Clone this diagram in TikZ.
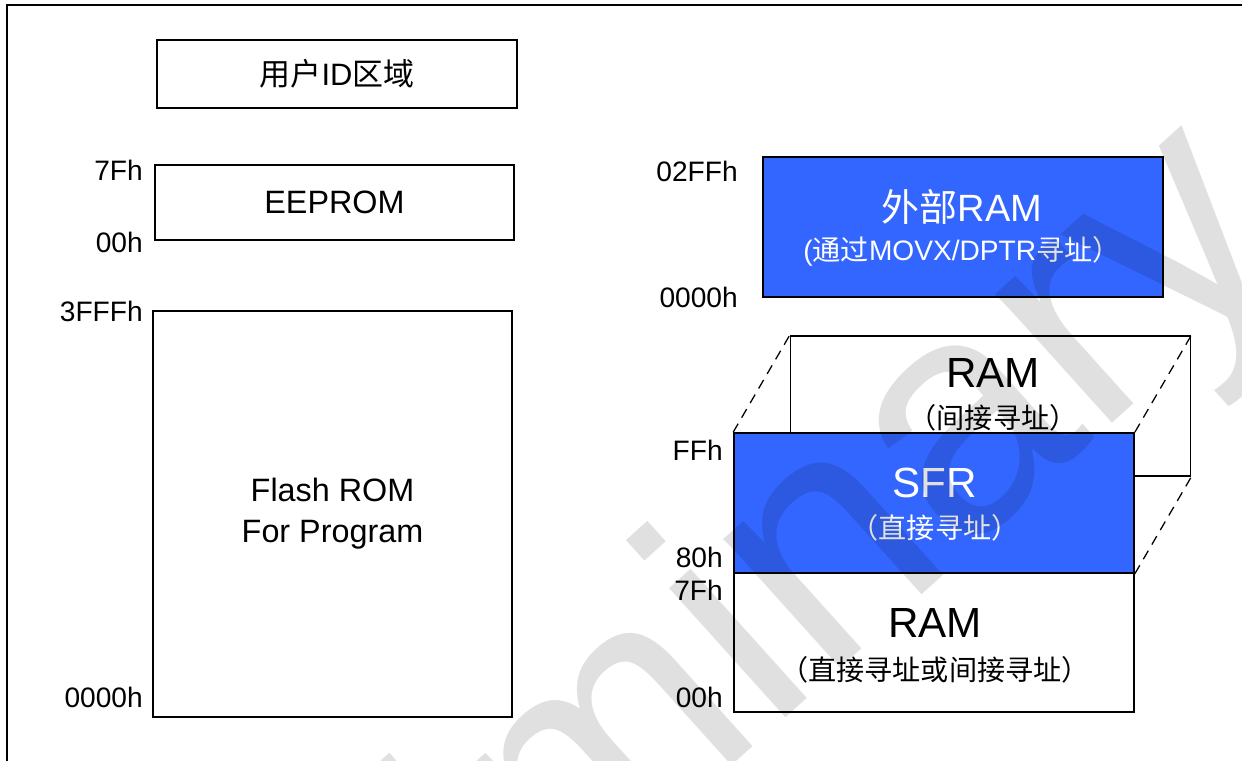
\documentclass[tikz,border=0pt]{standalone}
\usepackage{fontspec}
\setmainfont{Liberation Sans}
\newfontfamily\cjk{Noto Sans CJK SC}
\usepackage{tikz}
\usetikzlibrary{positioning}
\definecolor{sfrblue}{RGB}{51,102,255}
\tikzset{
  membox/.style={draw=black,line width=1.1pt,fill=white,inner sep=0pt,minimum width=10cm,minimum height=3.5cm},
  bluebox/.style={membox,fill=sfrblue},
  addr/.style={anchor=east,inner sep=0pt,font=\fontsize{20}{24}\selectfont},
  dashline/.style={line width=0.9pt,dash pattern=on 7pt off 5pt},
  frameline/.style={line width=1.3pt,draw=black}
}

\begin{document}
\begin{tikzpicture}[
  x=0.025cm,y=-0.025cm,
  bigname/.style={inner sep=0pt,font=\fontsize{30}{36}\selectfont},
  midname/.style={inner sep=0pt,font=\fontsize{27}{32}\selectfont},
  subname/.style={inner sep=0pt,font=\fontsize{20}{24}\selectfont},
  wmark/.style={inner sep=0pt,rotate=42,text=black,text opacity=0.12,font=\fontsize{234}{234}\selectfont}
]
\useasboundingbox (0,0) rectangle (1242,761);

% outer frame
\draw[frameline] (7,761) -- (7,5) -- (1242,5);

% program side
\node[membox,minimum width=9cm,minimum height=1.7cm,font=\fontsize{22}{26}\selectfont]
  (uid) at (337,74) {{\cjk 用户}ID{\cjk 区域}};

\node[membox,minimum width=8.975cm,minimum height=1.875cm,font=\fontsize{23}{28}\selectfont]
  (eeprom) at (334.5,202.5) {EEPROM};
\node[addr] (eeHi) at (143,170) {7Fh};
\node[addr] (eeLo) at (143,242) {00h};

\node[membox,minimum width=8.975cm,minimum height=10.15cm,align=center,font=\fontsize{23}{29}\selectfont]
  (flash) at (332.5,514) {Flash ROM\\For Program};
\node[addr] (flHi) at (143,311) {3FFFh};
\node[addr] (flLo) at (143,697) {0000h};

% data side
\node[bluebox] (xram) at (963,227) {};
\node[midname,text=white] (xramT) at (962,207) {{\cjk 外部}RAM};
\node[subname,text=white] (xramS) at (962,251) {({\cjk 通过}MOVX/DPTR{\cjk 寻址）}};
\node[addr] (xrHi) at (738,171) {02FFh};
\node[addr] (xrLo) at (738,297) {0000h};

\node[membox] (ramind) at (990.5,406) {};
\node[bigname] (ramindT) at (993,373) {RAM};
\node[subname] (ramindS) at (993,418) {\cjk （间接寻址）};

\node[bluebox] (sfr) at (934,503) {};
\node[bigname,text=white] (sfrT) at (935,483) {SFR};
\node[subname,text=white] (sfrS) at (935,528) {\cjk （直接寻址）};

\node[membox,minimum height=3.475cm] (ramdir) at (934,642.5) {};
\node[bigname] (ramdirT) at (935,623) {RAM};
\node[subname] (ramdirS) at (935,670) {\cjk （直接寻址或间接寻址）};

\draw[dashline] (sfr.north west) -- (ramind.north west);
\draw[dashline] (sfr.north east) -- (ramind.north east);
\draw[dashline] (sfr.south east) -- (ramind.south east);

\node[addr] (sfHi) at (723,450) {FFh};
\node[addr] (sfLo) at (723,557) {80h};
\node[addr] (rdHi) at (723,590) {7Fh};
\node[addr] (rdLo) at (723,697) {00h};

% watermark
\node[wmark] (wm) at (631,742) {Preliminary};
\end{tikzpicture}
\end{document}
